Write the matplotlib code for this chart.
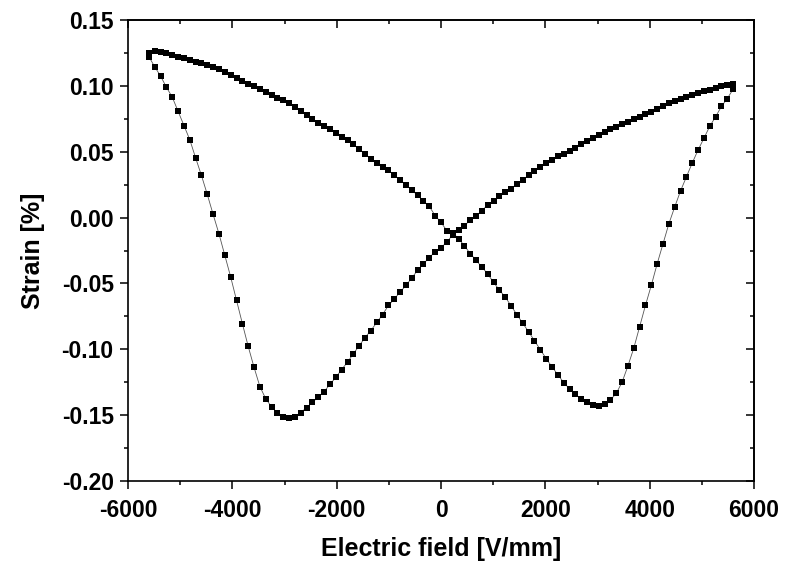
import numpy as np
import matplotlib
matplotlib.use("Agg")
import matplotlib.pyplot as plt

plt.rcParams['font.family'] = ['Liberation Sans', 'DejaVu Sans']
plt.rcParams['font.weight'] = 'bold'
plt.rcParams['axes.unicode_minus'] = False

# electric field grid (V/mm), one sample per step of the triangular drive
field = [-5600, -5488, -5376, -5264, -5152, -5040, -4928, -4816, -4704, -4592,
         -4480, -4368, -4256, -4144, -4032, -3920, -3808, -3696, -3584, -3472,
         -3360, -3248, -3136, -3024, -2912, -2800, -2688, -2576, -2464, -2352,
         -2240, -2128, -2016, -1904, -1792, -1680, -1568, -1456, -1344, -1232,
         -1120, -1008, -896, -784, -672, -560, -448, -336, -224, -112,
         0, 112, 224, 336, 448, 560, 672, 784, 896, 1008,
         1120, 1232, 1344, 1456, 1568, 1680, 1792, 1904, 2016, 2128,
         2240, 2352, 2464, 2576, 2688, 2800, 2912, 3024, 3136, 3248,
         3360, 3472, 3584, 3696, 3808, 3920, 4032, 4144, 4256, 4368,
         4480, 4592, 4704, 4816, 4928, 5040, 5152, 5264, 5376, 5488, 5600]

# strain (%) while the field rises from -Emax to +Emax
strain_up = [0.1250, 0.1262, 0.1261, 0.1250, 0.1234, 0.1221, 0.1208, 0.1196, 0.1184, 0.1172,
             0.1159, 0.1143, 0.1126, 0.1106, 0.1085, 0.1063, 0.1040, 0.1018, 0.0996, 0.0974,
             0.0952, 0.0931, 0.0910, 0.0890, 0.0869, 0.0840, 0.0810, 0.0780, 0.0749, 0.0722,
             0.0697, 0.0671, 0.0643, 0.0615, 0.0587, 0.0556, 0.0520, 0.0483, 0.0447, 0.0414,
             0.0385, 0.0358, 0.0323, 0.0287, 0.0249, 0.0210, 0.0168, 0.0126, 0.0085, 0.0015,
             -0.0036, -0.0099, -0.0115, -0.0160, -0.0213, -0.0273, -0.0323, -0.0375, -0.0428, -0.0492,
             -0.0550, -0.0603, -0.0670, -0.0737, -0.0802, -0.0867, -0.0934, -0.1002, -0.1070, -0.1133,
             -0.1193, -0.1252, -0.1300, -0.1342, -0.1375, -0.1403, -0.1425, -0.1432, -0.1418, -0.1384,
             -0.1334, -0.1248, -0.1125, -0.0990, -0.0828, -0.0665, -0.0513, -0.0350, -0.0199, -0.0047,
             0.0081, 0.0203, 0.0309, 0.0415, 0.0513, 0.0603, 0.0693, 0.0766, 0.0844, 0.0904, 0.0975]

# strain (%) while the field falls back from +Emax to -Emax (listed on the same ascending grid)
strain_down = [0.1222, 0.1145, 0.1075, 0.0990, 0.0915, 0.0806, 0.0699, 0.0592, 0.0454, 0.0320,
               0.0176, 0.0024, -0.0123, -0.0287, -0.0450, -0.0627, -0.0804, -0.0977, -0.1136, -0.1282,
               -0.1375, -0.1436, -0.1484, -0.1515, -0.1523, -0.1510, -0.1481, -0.1442, -0.1402, -0.1362,
               -0.1320, -0.1266, -0.1212, -0.1153, -0.1097, -0.1033, -0.0973, -0.0910, -0.0857, -0.0796,
               -0.0736, -0.0667, -0.0618, -0.0565, -0.0515, -0.0458, -0.0399, -0.0350, -0.0303, -0.0259,
               -0.0228, -0.0186, -0.0130, -0.0097, -0.0060, -0.0021, 0.0014, 0.0052, 0.0098, 0.0129,
               0.0161, 0.0191, 0.0220, 0.0256, 0.0289, 0.0321, 0.0356, 0.0386, 0.0416, 0.0439,
               0.0464, 0.0484, 0.0504, 0.0527, 0.0561, 0.0585, 0.0606, 0.0628, 0.0652, 0.0672,
               0.0690, 0.0709, 0.0728, 0.0746, 0.0764, 0.0783, 0.0803, 0.0825, 0.0848, 0.0868,
               0.0882, 0.0897, 0.0913, 0.0928, 0.0944, 0.0958, 0.0972, 0.0985, 0.0998, 0.1010, 0.1012]

x_ticks = [-6000, -4000, -2000, 0, 2000, 4000, 6000]
x_minor = [-5000, -3000, -1000, 1000, 3000, 5000]
y_ticks = [-0.20, -0.15, -0.10, -0.05, 0.00, 0.05, 0.10, 0.15]
y_labels = ['-0.20', '-0.15', '-0.10', '-0.05', '0.00', '0.05', '0.10', '0.15']
y_minor = [-0.175, -0.125, -0.075, -0.025, 0.025, 0.075, 0.125]

# full loop: up sweep, then down sweep
E = field + field[::-1]
S = strain_up + strain_down[::-1]

fig = plt.figure(figsize=(8, 5.64), dpi=100)
ax = fig.add_axes([0.16, 0.147, 0.7825, 0.8175])

ax.plot(E, S, '-', color='#555555', lw=0.6, zorder=1)
ax.plot(E, S, 's', color='black', ms=5, mew=0, zorder=2)

ax.set_xlim(-6000, 6000)
ax.set_ylim(-0.20, 0.15)
ax.set_xticks(x_ticks)
ax.set_xticks(x_minor, minor=True)
ax.set_yticks(y_ticks)
ax.set_yticklabels(y_labels)
ax.set_yticks(y_minor, minor=True)

for sp in ax.spines.values():
    sp.set_linewidth(1.2)

ax.tick_params(axis='x', which='major', pad=7)
ax.tick_params(axis='y', which='major', pad=4.5)
ax.tick_params(which='major', direction='out', length=5.8, width=1.1, labelsize=16.5)
ax.tick_params(which='minor', direction='out', length=3, width=1.1)

# mirrored ticks on top and right, pointing inward
top = ax.secondary_xaxis('top')
top.set_xticks(x_ticks)
top.set_xticks(x_minor, minor=True)
top.tick_params(which='both', direction='in', labeltop=False, width=1.1)
top.tick_params(which='major', length=5.8)
top.tick_params(which='minor', length=3)
right = ax.secondary_yaxis('right')
right.set_yticks(y_ticks)
right.set_yticks(y_minor, minor=True)
right.tick_params(which='both', direction='in', labelright=False, width=1.1)
right.tick_params(which='major', length=5.8)
right.tick_params(which='minor', length=3)
for s in (top, right):
    for sp in s.spines.values():
        sp.set_linewidth(1.2)

ax.set_xlabel('Electric field [V/mm]', fontsize=18, fontweight='bold', labelpad=11)
ax.set_ylabel('Strain [%]', fontsize=18, fontweight='bold', labelpad=12)

fig.savefig('out.png', dpi=100)
